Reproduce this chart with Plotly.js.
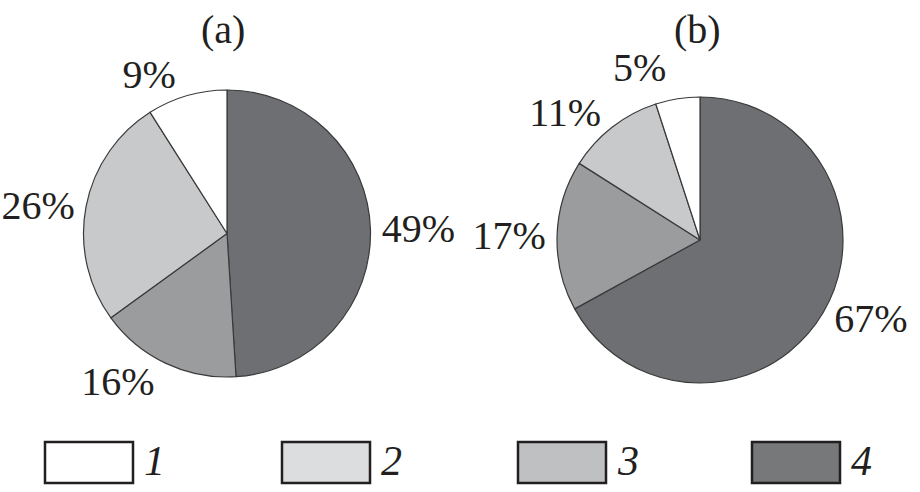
<!DOCTYPE html>
<html>
<head>
<meta charset="utf-8">
<script src="https://cdn.plot.ly/plotly-3.0.1.min.js"></script>
<style>
html,body{margin:0;padding:0;background:#fff;}
#chart{width:920px;height:492px;}
#chart path.textline{display:none;}
</style>
</head>
<body>
<div id="chart"></div>
<script>
// Data
var categories = ['1', '2', '3', '4'];
var valuesA = [9, 26, 16, 49];
var valuesB = [5, 11, 17, 67];
var panelTitles = ['(a)', '(b)'];

// Styles
var sliceColors = ['#ffffff', '#c8c9cb', '#9b9c9e', '#6e6f72'];
var legendColors = ['#ffffff', '#dcdddf', '#bfc0c2', '#77787a'];
var serif = '"Liberation Serif", "Times New Roman", serif';
var ink = '#231f20';

// slices run clockwise from 12 o'clock: 4, 3, 2, 1
function pieTrace(values, dx, dy) {
  return {
    type: 'pie',
    labels: categories.slice().reverse(),
    values: values.slice().reverse(),
    sort: false,
    direction: 'clockwise',
    rotation: 0,
    domain: {x: dx, y: dy},
    marker: {colors: sliceColors.slice().reverse(), line: {color: '#3a3a3a', width: 1.2}},
    textinfo: 'percent',
    textposition: 'outside',
    outsidetextfont: {family: serif, size: 40, color: ink},
    hoverinfo: 'label+percent',
    showlegend: false
  };
}

var W = 920, H = 492;
var data = [
  pieTrace(valuesA, [83.5 / W, 370.5 / W], [1 - 377 / H, 1 - 90 / H]),
  pieTrace(valuesB, [557 / W, 843 / W], [1 - 383 / H, 1 - 97 / H])
];

var shapes = [];
var annotations = [];
// Panel titles
var titleX = [223 / W, 697 / W];
panelTitles.forEach(function (t, i) {
  annotations.push({
    text: t, x: titleX[i], y: 1 - 29 / H, xref: 'paper', yref: 'paper',
    xanchor: 'center', yanchor: 'middle', showarrow: false,
    font: {family: serif, size: 40, color: ink}
  });
});
// Legend (boxes + italic numbers)
var legX0 = [45, 282, 518, 752];
categories.forEach(function (c, i) {
  var x0 = legX0[i];
  shapes.push({
    type: 'rect', xref: 'paper', yref: 'paper',
    x0: x0 / W, x1: (x0 + 88) / W, y0: 1 - 483 / H, y1: 1 - 442 / H,
    fillcolor: legendColors[i], line: {color: '#231f20', width: 2.5}
  });
  annotations.push({
    text: '<i>' + c + '</i>', x: (x0 + 97) / W, y: 1 - 461 / H,
    xref: 'paper', yref: 'paper', xanchor: 'left', yanchor: 'middle',
    showarrow: false, font: {family: serif, size: 42, color: ink}
  });
});

var layout = {
  width: W, height: H,
  margin: {l: 0, r: 0, t: 0, b: 0},
  paper_bgcolor: '#ffffff',
  plot_bgcolor: '#ffffff',
  showlegend: false,
  shapes: shapes,
  annotations: annotations
};

Plotly.newPlot('chart', data, layout, {displayModeBar: false, staticPlot: true});
</script>
</body>
</html>
